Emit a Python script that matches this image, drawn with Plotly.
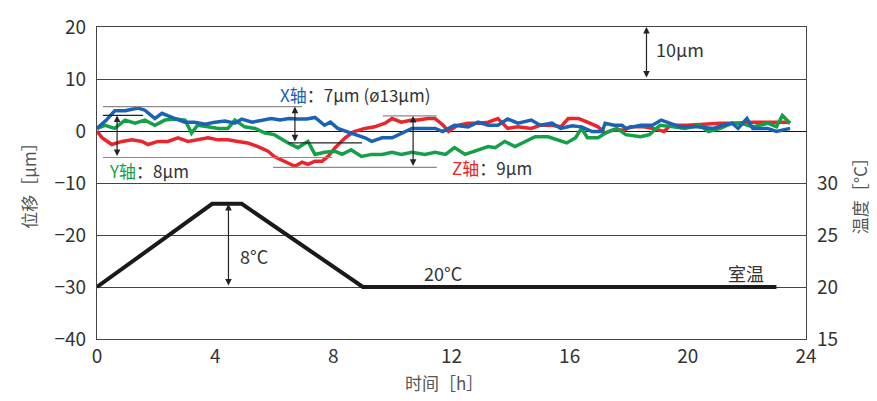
import plotly.graph_objects as go

# ---------------- data ----------------
x_hours = [0, 0.3, 0.6, 0.95, 1.39, 1.62, 1.96, 2.2, 2.64, 2.98, 3.3, 3.66, 4.0, 4.33, 4.67, 4.9,
           5.25, 5.58, 5.9, 6.2, 6.5, 6.8, 7.1, 7.38, 7.7, 7.9, 8.15, 8.6, 9.07, 9.3, 9.65, 9.99,
           10.2, 10.66, 11.0, 11.45, 11.7, 12.1, 12.56, 12.9, 13.24, 13.57, 13.9, 14.25, 14.7,
           15.0, 15.4, 15.7, 16.08, 16.4, 16.76, 17.1, 17.2, 17.5, 17.77, 17.9, 18.4, 18.8, 19.1,
           19.4, 19.74, 20.3, 20.86, 21.2, 21.5, 21.7, 22.0, 22.2, 22.7, 23.0, 23.46]
x_um = [0.5, 2.0, 3.9, 3.9, 4.4, 4.0, 2.4, 3.4, 2.4, 1.7, 1.7, 1.3, 1.7, 1.9, 1.5, 2.3,
        1.7, 2.1, 2.4, 2.1, 2.4, 2.3, 2.3, 2.6, 1.1, 1.7, 0.5, -0.4, -1.3, -2.0, -1.3, -1.3,
        -0.7, 0.5, 0.5, 0.5, -0.1, 1.1, 0.8, 1.7, 1.1, 1.1, 2.3, 1.5, 2.1,
        1.1, 1.5, 0.5, 1.0, 0.8, -0.1, -0.1, 1.5, 1.1, 1.1, 0.5, 1.1, 1.1, 2.1,
        1.5, 0.8, 0.8, 0.5, 1.1, 1.5, 0.5, 2.4, 0.5, 0.5, -0.1, 0.5]

y_hours = [0, 0.27, 0.6, 0.95, 1.29, 1.62, 1.96, 2.3, 2.64, 2.98, 3.2, 3.4, 3.76, 4.1, 4.43, 4.67,
           5.0, 5.35, 5.69, 6.0, 6.47, 6.8, 7.14, 7.38, 7.7, 8.06, 8.3, 8.6, 8.95, 9.3, 9.65, 9.99,
           10.3, 10.66, 11.1, 11.44, 11.8, 12.1, 12.46, 12.9, 13.24, 13.48, 13.8, 14.15, 14.5,
           14.83, 15.27, 15.6, 15.9, 16.2, 16.4, 16.6, 16.96, 17.3, 17.6, 17.9, 18.4, 18.7, 19.06,
           19.5, 19.9, 20.4, 20.7, 21.1, 21.5, 21.8, 22.2, 22.7, 23.0, 23.2, 23.46]
y_um = [0.5, 1.1, 0.5, 2.1, 1.5, 2.1, 1.1, 2.1, 2.3, 2.1, -0.4, 1.1, 0.8, 0.5, 0.5, 2.1,
        0.8, 0.5, -0.4, -0.7, -2.3, -3.2, -2.0, -4.5, -4.1, -3.9, -4.5, -3.6, -4.9, -4.5, -4.5, -4.1,
        -4.5, -4.1, -4.5, -4.1, -4.5, -3.2, -4.5, -3.6, -3.0, -3.2, -2.0, -3.0, -2.0,
        -1.1, -1.1, -1.7, -2.3, -1.3, 0.5, -1.3, -1.3, -0.1, 0.5, -0.7, -1.1, -0.7, 1.1,
        0.8, 0.5, 1.1, -0.1, 0.5, 1.5, 1.5, 0.8, 1.5, 0.8, 3.0, 1.5]

z_hours = [0, 0.17, 0.5, 0.85, 1.18, 1.52, 1.73, 2.06, 2.4, 2.74, 3.08, 3.4, 3.76, 4.1, 4.43, 4.77,
           5.1, 5.45, 5.79, 6.0, 6.36, 6.7, 6.94, 7.14, 7.38, 7.62, 7.82, 8.06, 8.4, 8.7, 9.07, 9.4,
           9.75, 9.99, 10.3, 10.66, 10.87, 11.2, 11.44, 11.7, 11.9, 12.2, 12.56, 12.9, 13.24,
           13.57, 13.9, 14.25, 14.7, 15.0, 15.4, 15.7, 15.95, 16.3, 16.6, 16.96, 17.2, 17.5,
           17.87, 18.05, 18.5, 18.8, 19.2, 19.4, 19.97, 20.5, 21.1, 21.6, 22.2, 22.8, 23.35, 23.46]
z_um = [0, -1.3, -2.6, -2.0, -1.7, -2.0, -2.6, -2.0, -2.0, -1.3, -2.0, -1.7, -1.3, -1.7, -1.7, -2.0,
        -2.3, -3.0, -3.9, -4.9, -5.8, -6.8, -6.0, -6.4, -5.8, -5.8, -4.9, -3.2, -1.3, -0.1, 0.5, 0.8,
        1.5, 2.4, 1.7, 2.1, 2.1, 2.4, 2.4, 1.2, -0.1, 1.1, 1.5, 1.5, 1.7,
        2.4, 0.5, 0.8, 0.5, 1.1, 1.1, 0.8, 2.4, 2.4, 1.7, 0.8, -0.4, 0.2,
        0.2, 0.8, 0.8, 0.5, -0.1, 1.1, 1.1, 1.3, 1.5, 1.5, 1.7, 1.7, 1.7, 1.5]

temp_hours = [0, 3.9, 4.9, 9.0, 23.0]
temp_c = [20, 28, 28, 20, 20]

x_ticks = [0, 4, 8, 12, 16, 20, 24]
y_ticks = [20, 10, 0, -10, -20, -30, -40]
t_ticks = [15, 20, 25, 30]

# amplitude bands (upper, lower) in µm
x_band = [4.7, -2.3]
y_band = [3.0, -5.1]
z_band = [2.9, -7.0]

BLUE = "#1a62b3"
GREEN = "#14a048"
RED = "#e8262c"
FONT = "Noto Sans CJK SC, Noto Sans, sans-serif"
TXT = "#333333"

fig = go.Figure()
fig.add_trace(go.Scatter(x=temp_hours, y=temp_c, yaxis="y2", mode="lines",
                         line=dict(color="#1a1a1a", width=4), hoverinfo="skip"))
fig.add_trace(go.Scatter(x=z_hours, y=z_um, mode="lines", line=dict(color=RED, width=3.5)))
fig.add_trace(go.Scatter(x=y_hours, y=y_um, mode="lines", line=dict(color=GREEN, width=3.5)))
fig.add_trace(go.Scatter(x=x_hours, y=x_um, mode="lines", line=dict(color=BLUE, width=3.5)))

GRAY = "#8a8a8a"
DARK = "#222222"
ref_lines = [
    (0.2, 6.94, x_band[0], GRAY),
    (6.47, 8.97, x_band[1], DARK),
    (0.2, 1.56, y_band[0], DARK),
    (0.2, 7.96, y_band[1], GRAY),
    (9.68, 11.5, z_band[0], GRAY),
    (5.96, 11.5, z_band[1], GRAY),
]
for x0, x1, yv, c in ref_lines:
    fig.add_shape(type="line", xref="x", yref="y", x0=x0, x1=x1, y0=yv, y1=yv,
                  line=dict(color=c, width=1.2))

anns = []
def darrow(xh, top, bottom, yref="y"):
    anns.append(dict(x=xh, y=top, ax=xh, ay=bottom, xref="x", yref=yref, axref="x", ayref=yref,
                     text="", showarrow=True, arrowhead=2, startarrowhead=2, arrowside="end+start",
                     arrowsize=1.1, arrowwidth=1.2, arrowcolor=DARK, standoff=0, startstandoff=0))

darrow(0.68, y_band[0], y_band[1])
darrow(6.7, x_band[0], x_band[1])
darrow(10.7, z_band[0], z_band[1])
darrow(18.6, 20, 10)
darrow(4.45, max(temp_c), min(temp_c), yref="y2")

def label(x, y, text, xanchor="left", size=17, yref="y"):
    anns.append(dict(x=x, y=y, xref="x", yref=yref, text=text, showarrow=False,
                     xanchor=xanchor, yanchor="middle", font=dict(family=FONT, size=size, color=TXT)))

label(6.13, 7.1, f"<span style='color:{BLUE}'>X轴</span>：7µm (ø13µm)")
label(0.34, -7.5, f"<span style='color:{GREEN}'>Y轴</span>：8µm")
label(11.95, -7.0, f"<span style='color:{RED}'>Z轴</span>：9µm")
label(18.85, 15.8, "10µm", size=18)
label(4.77, -24.0, "8°C", size=18)
label(11.7, -27.4, "20°C", xanchor="center", size=18)
label(21.97, -27.4, "室温", xanchor="center", size=18)

def title(x, y, text, angle=0):
    anns.append(dict(x=x, y=y, xref="paper", yref="paper", text=text, textangle=angle,
                     xanchor="center", yanchor="middle", showarrow=False,
                     font=dict(family=FONT, size=17, color="#555")))

title(-0.097, 0.505, "位移［µm］", -90)
title(1.076, 0.473, "温度［°C］", -90)
title(0.489, -0.14, "时间［h］")

tickfont = dict(family=FONT, size=19, color=TXT)
fig.update_layout(
    width=877, height=401,
    margin=dict(l=97, r=71, t=20, b=62),
    paper_bgcolor="white", plot_bgcolor="white",
    showlegend=False,
    annotations=anns,
    xaxis=dict(range=[0, 24], tickvals=x_ticks, showgrid=False, zeroline=False,
               showline=True, linecolor="#444", linewidth=1.2, mirror=True, ticks="",
               tickfont=tickfont, fixedrange=True),
    yaxis=dict(range=[-40, 20], tickvals=y_ticks, showgrid=True, gridcolor="#444", gridwidth=1,
               zeroline=True, zerolinecolor="#111", zerolinewidth=1,
               showline=True, linecolor="#444", linewidth=1.2, ticks="", tickfont=tickfont,
               ticklabelstandoff=6),
    yaxis2=dict(range=[15, 45], tickvals=t_ticks, overlaying="y", side="right", showgrid=False,
                zeroline=False, showline=True, linecolor="#444", linewidth=1.2, ticks="",
                tickfont=tickfont, ticklabelstandoff=6),
)

fig.write_html("out.html")
